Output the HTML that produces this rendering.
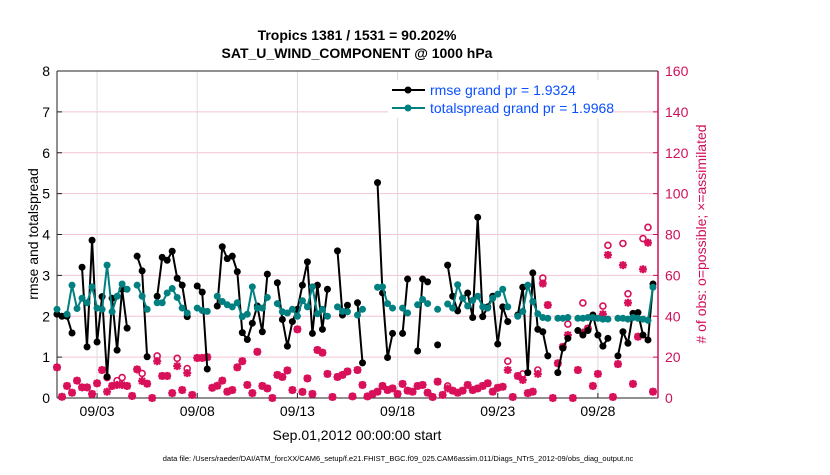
<!DOCTYPE html>
<html><head><meta charset="utf-8"><style>
body{margin:0;background:#fff;font-family:"Liberation Sans",sans-serif}
svg text{font-family:"Liberation Sans",sans-serif}
</style></head><body>
<svg id="chart" width="830" height="470" xmlns="http://www.w3.org/2000/svg">
<rect width="830" height="470" fill="#fff"/>
<g id="grid"></g><g id="axes"></g><g id="series"></g>
<text x="357" y="40" text-anchor="middle" font-size="14" font-weight="bold">Tropics 1381 / 1531 = 90.202%</text>
<text x="357" y="58" text-anchor="middle" font-size="14" font-weight="bold">SAT_U_WIND_COMPONENT @ 1000 hPa</text>
<text transform="translate(38,234) rotate(-90)" text-anchor="middle" font-size="14">rmse and totalspread</text>
<text transform="translate(706,234) rotate(-90)" text-anchor="middle" font-size="14" fill="#d0105a"># of obs: o=possible; ×=assimilated</text>
<text x="357" y="440" text-anchor="middle" font-size="14">Sep.01,2012 00:00:00 start</text>
<text x="398" y="461" text-anchor="middle" font-size="7.5">data file: /Users/raeder/DAI/ATM_forcXX/CAM6_setup/f.e21.FHIST_BGC.f09_025.CAM6assim.011/Diags_NTrS_2012-09/obs_diag_output.nc</text>
<g>
<rect x="388" y="80" width="220" height="38" fill="#fff"/>
<line x1="392" y1="90" x2="425" y2="90" stroke="#000" stroke-width="2"/><circle cx="408" cy="90" r="3.5" fill="#000"/>
<text x="430" y="95" font-size="14" fill="#0a50ff">rmse grand pr = 1.9324</text>
<line x1="392" y1="108" x2="425" y2="108" stroke="#008080" stroke-width="2"/><circle cx="408" cy="108" r="3.5" fill="#008080"/>
<text x="430" y="113" font-size="14" fill="#0a50ff">totalspread grand pr = 1.9968</text>
</g>
</svg>
<script>
const N=null;
const rmse=[2.05,2.0,2.0,1.59,N,3.2,1.25,3.86,1.37,2.48,0.52,2.44,1.17,2.66,1.71,N,3.47,3.11,1.01,N,
2.49,3.44,3.37,3.59,2.93,2.76,1.99,N,2.74,2.59,0.71,N,2.25,3.7,3.41,3.47,3.09,1.6,1.43,1.83,
2.25,1.62,3.03,N,2.82,1.92,1.27,1.87,2.17,2.76,3.33,1.58,2.76,1.68,2.66,N,3.6,2.03,2.27,N,
2.33,0.86,N,N,5.27,2.57,0.99,1.58,N,1.58,2.91,N,1.15,2.91,2.84,N,1.3,N,3.25,2.49,
2.13,2.44,2.57,1.97,4.42,1.99,2.23,2.49,1.32,2.23,1.87,N,2.03,2.71,0.62,3.06,1.68,1.62,1.03,N,
0.62,1.22,1.46,N,1.65,1.54,1.65,2.03,1.54,1.27,1.46,N,1.03,1.62,1.34,2.07,2.09,1.54,1.42,2.79];
const spread=[2.17,N,2.05,2.76,2.19,2.44,2.33,2.72,2.2,2.17,3.25,2.11,2.49,2.79,2.66,N,2.76,2.49,2.17,N,
2.33,2.33,2.57,2.68,2.46,2.2,2.08,N,2.2,2.14,2.12,N,2.49,2.36,2.28,2.23,2.33,1.99,2.05,2.72,
2.2,2.2,2.46,N,2.31,2.11,2.08,2.17,2.0,2.38,2.23,2.72,2.06,2.17,2.0,N,2.23,2.12,2.11,N,
2.03,2.17,N,N,2.71,2.72,2.31,2.2,N,2.2,2.08,N,2.28,2.41,2.31,N,2.17,N,2.3,2.2,
2.77,2.44,2.25,2.39,2.49,2.23,2.2,2.44,2.54,2.66,2.23,N,2.0,2.12,2.76,2.36,2.06,1.97,1.95,N,
1.95,1.95,1.97,N,1.95,1.95,1.97,1.97,1.95,1.93,1.93,N,1.95,1.95,1.93,1.97,1.95,1.93,1.9,2.71];
const assim=[15,0.6,5.9,2.6,8.5,5.2,5.2,2,7.2,13.7,3.1,5.9,6.4,6.4,5.9,1,14,8.3,7,0,
18,10.8,10.8,2.4,15.6,3.9,12.2,1.5,19.6,19.6,20,5,6,8.5,3.1,3.9,15,18,6.4,2.4,
22.6,5.9,4.7,0,11.3,10.3,13.5,3.9,33.6,3,9.6,2,23.5,22.2,11.8,0.5,10.3,11.3,13,0.8,
13.7,6.4,0.8,2,3.1,5.9,3.9,4.7,2,6.9,3.6,3.1,5.9,6.4,2.6,0.5,8,1.5,4.7,3.6,
2.6,3.6,6.4,3.9,4.7,5.9,7.2,3.1,5,5.5,13.7,0.5,10.8,8.8,2.4,3.1,11.8,56,45.5,0,
17,25,30.8,0,13.7,32,34,5.9,11.8,41,70,0.5,16.6,65,46.6,6.9,30,63,76,3.1];
const possible=[15,0.6,5.9,2.6,8.5,5.2,5.2,2,7.2,13.7,10,5.9,8.5,10,5.9,1,14,12,7,0,
20.6,10.8,10.8,2.4,19.4,3.9,14.4,1.5,19.6,19.6,20,5,6,8.5,3.1,3.9,15,18,6.4,2.4,
22.6,5.9,4.7,0,11.3,10.3,13.5,3.9,33.6,3,9.6,2,23.5,22.2,11.8,0.5,10.3,11.3,13,0.8,
13.7,6.4,0.8,2,3.1,5.9,3.9,4.7,2,6.9,3.6,3.1,5.9,6.4,2.6,0.5,8,1.5,5.9,3.6,
2.6,3.6,6.4,3.9,4.7,5.9,7.2,3.1,5,5.5,18,0.5,10.8,11.8,2.4,3.1,13.7,58.7,45.5,0,
17,25,36.2,0,13.7,46.5,34,5.9,11.8,45,74.7,0.5,16.6,75.6,51,6.9,30,78,83.5,3.1];
const xTickLabels=["09/03","09/08","09/13","09/18","09/23","09/28"];
const xTickDays=[2,7,12,17,22,27];
const yTicks=[0,1,2,3,4,5,6,7,8];
const y2Ticks=[0,20,40,60,80,100,120,140,160];

const L=57,R=658,T=71,B=398,NS="http://www.w3.org/2000/svg";
const X=d=>L+(d/30)*(R-L);
const Y=v=>B-(v/8)*(B-T);
const Y2=v=>B-(v/160)*(B-T);
function mk(p,tag,at){const e=document.createElementNS(NS,tag);for(const k in at)e.setAttribute(k,at[k]);p.appendChild(e);return e;}
const grid=document.getElementById('grid'),axes=document.getElementById('axes'),ser=document.getElementById('series');
mk(grid,'rect',{x:L,y:T,width:R-L,height:B-T,fill:'#fff'});
yTicks.forEach(v=>{if(v>0&&v<8){const l=mk(grid,'line',{x1:L,x2:R,y1:Y(v),y2:Y(v),stroke:'#f2c4d4','stroke-width':1});

}
mk(axes,'line',{x1:L,x2:L+5,y1:Y(v),y2:Y(v),stroke:'#222'});
const t=mk(axes,'text',{x:L-7,y:Y(v)+5,'text-anchor':'end','font-size':14});t.textContent=v;

});
y2Ticks.forEach(v=>{mk(axes,'line',{x1:R-5,x2:R,y1:Y2(v),y2:Y2(v),stroke:'#d0105a'});
const t=mk(axes,'text',{x:R+7,y:Y2(v)+5,'font-size':14,fill:'#d0105a'});t.textContent=v;

});
xTickDays.forEach((d,i)=>{const l=mk(grid,'line',{x1:X(d),x2:X(d),y1:T,y2:B,stroke:'#dcdcdc'});


mk(axes,'line',{x1:X(d),x2:X(d),y1:B,y2:B-5,stroke:'#222'});
const t=mk(axes,'text',{x:X(d),y:B+18,'text-anchor':'middle','font-size':14});t.textContent=xTickLabels[i];

});
mk(axes,'line',{x1:L,x2:L,y1:T,y2:B,stroke:'#222'});
mk(axes,'line',{x1:L,x2:R,y1:B,y2:B,stroke:'#222'});
mk(axes,'line',{x1:R,x2:R,y1:T,y2:B,stroke:'#d0105a','stroke-width':1.5});
mk(axes,'line',{x1:L,x2:R,y1:T,y2:T,stroke:'#222'});
const day=i=>i/4;
possible.forEach((v,i)=>{if(v==null)return;const c=mk(ser,'circle',{cx:X(day(i)),cy:Y2(v),r:3,fill:'none',stroke:'#d8105a','stroke-width':1.6});

});
assim.forEach((v,i)=>{if(v==null)return;const g=mk(ser,'g',{stroke:'#d8105a','stroke-width':2.2});


const x=X(day(i)),y=Y2(v),r=4;
mk(g,'line',{x1:x-r,x2:x+r,y1:y,y2:y});mk(g,'line',{x1:x,x2:x,y1:y-r,y2:y+r});
mk(g,'line',{x1:x-3,x2:x+3,y1:y-3,y2:y+3});mk(g,'line',{x1:x-3,x2:x+3,y1:y+3,y2:y-3});});
function series(arr,col,name){let d='',pen=false;arr.forEach((v,i)=>{if(v==null){pen=false;return;}d+=(pen?'L':'M')+X(day(i)).toFixed(1)+','+Y(v).toFixed(1);pen=true;});
const p=mk(ser,'path',{d:d,fill:'none',stroke:col,'stroke-width':2});


arr.forEach((v,i)=>{if(v==null)return;const c=mk(ser,'circle',{cx:X(day(i)),cy:Y(v),r:3.5,fill:col});

});}
series(rmse,'#000','rmse');
series(spread,'#008080','totalspread');
</script>
</body></html>
